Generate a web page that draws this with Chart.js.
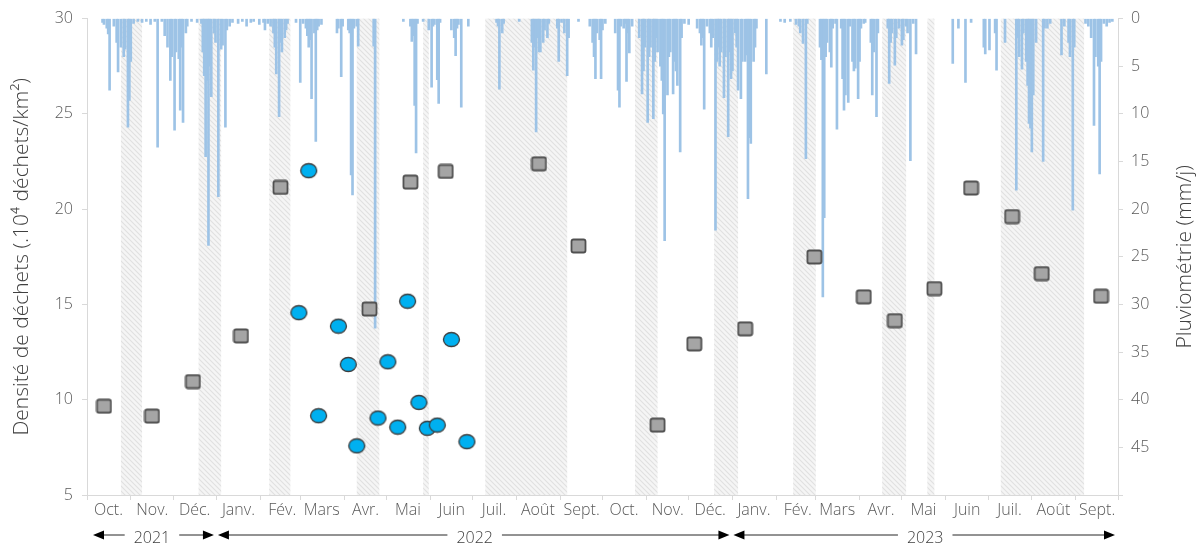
<!DOCTYPE html>
<html>
<head>
<meta charset="utf-8">
<script src="https://cdn.jsdelivr.net/npm/chart.js@4/dist/chart.umd.min.js"></script>
<style>
  html, body { margin: 0; padding: 0; background: #fff; }
  #wrap { width: 1203px; height: 547px; }
</style>
</head>
<body>
<div id="wrap"><canvas id="c"></canvas></div>
<script>
// x axis is in days since 1 Oct 2021
const monthLabels = ['Oct.','Nov.','Déc.','Janv.','Fév.','Mars','Avr.','Mai','Juin','Juil.','Août','Sept.',
                     'Oct.','Nov.','Déc.','Janv.','Fév.','Mars','Avr.','Mai','Juin','Juil.','Août','Sept.'];
const monthStarts = [0,31,61,92,123,151,182,212,243,273,304,335,365,396,426,457,488,516,547,577,608,638,669,700,730];
const yearLabels = ['2021','2022','2023'];
const yearBounds = [0,92,457,730];

// hatched periods
const bandStart = [24,79,129,191,238,282,388,444,500,563,595,647];
const bandEnd   = [39,95,144,207,242,340,404,461,516,580,600,706];

// grey squares
const squareDays    = [12,46,75,109,137,200,229,254,320,348,404,430,466,515,550,572,600,626,655,676,718];
const squareDensity = [9.66,9.14,10.95,13.35,21.14,14.76,21.42,21.98,22.38,18.07,8.67,12.93,13.72,17.49,15.4,14.15,15.83,21.11,19.61,16.62,15.43];

// blue circles
const circleDays    = [150,157,164,178,185,191,206,213,220,227,235,241,248,258,269];
const circleDensity = [14.57,22.02,9.16,13.86,11.85,7.58,9.04,11.99,8.56,15.17,9.86,8.5,8.67,13.16,7.8];

// daily rainfall (mm/j)
const rainDays = [
  11,12,14,15,16,19,21,22,24,26,27,29,30,31,33,36,39,42,45,48,50,53,55,57,59,60,62,63,65,66,67,68,70,71,74,78,
  81,82,83,84,85,86,87,88,90,91,93,95,96,98,99,101,103,107,110,113,116,118,122,125,126,128,130,132,133,134,136,137,138,140,141,142,
  148,151,153,155,156,157,158,159,161,162,163,164,166,177,178,180,181,185,186,187,188,189,191,192,203,204,
  224,229,230,231,232,233,234,238,242,244,245,246,248,249,250,258,260,261,262,263,265,270,290,291,292,294,295,
  306,315,316,317,318,319,320,321,323,324,326,327,333,334,336,338,340,341,348,356,358,359,360,361,363,364,365,367,
  374,376,377,378,380,381,382,383,384,386,391,393,394,395,397,398,399,401,402,403,404,406,407,408,409,411,412,413,
  415,416,417,418,420,421,423,426,432,434,435,436,437,439,441,442,443,445,
  446,447,448,449,451,452,454,455,456,457,459,460,461,463,464,466,467,468,469,470,472,473,474,481,491,494,498,
  502,504,505,507,509,510,519,520,521,522,523,524,526,527,528,530,531,534,535,536,537,539,540,542,543,544,546,547,548,
  550,551,555,556,557,559,560,567,568,569,570,572,573,575,577,578,580,581,583,585,587,
  613,617,622,626,635,636,639,643,644,650,658,659,660,662,663,665,666,667,668,669,670,672,677,678,680,682,
  690,692,695,696,698,699,707,709,711,713,714,716,717,718,720,722,724,726
];
const rainMm = [
  0.4,0.6,1.0,1.6,7.5,0.8,2.5,5.6,3.0,4.0,3.2,11.4,8.6,4.5,0.5,0.3,0.4,0.3,0.6,0.3,13.5,0.3,1.8,3.0,6.5,4.0,11.7,3.5,4.2,9.6,3.0,10.9,1.5,0.8,0.3,0.4,
  0.5,3.5,6.0,14.5,6.5,23.8,5.0,8.2,1.5,2.5,18.7,3.2,2.8,11.4,1.2,0.8,0.4,0.5,0.3,0.8,0.4,0.3,0.6,0.4,1.2,0.5,0.8,1.5,3.0,5.8,10.3,2.5,3.5,2.0,1.2,0.5,
  0.4,6.7,0.5,1.0,1.8,3.0,2.2,8.4,1.5,12.9,1.2,0.8,0.6,1.5,1.0,6.1,0.8,1.2,1.5,16.4,18.5,1.0,0.8,2.9,2.9,32.5,
  0.3,0.8,2.4,1.8,9.1,14.1,0.5,0.3,1.2,7.2,0.8,0.6,6.4,8.9,0.4,1.2,2.0,3.9,1.0,0.6,9.3,0.8,0.4,0.8,7.4,1.5,0.5,
  0.3,2.5,5.4,3.0,11.9,2.0,3.5,3.5,2.5,1.2,2.0,0.5,1.0,4.5,0.4,1.5,6.0,2.0,0.3,0.8,2.5,4.0,6.3,1.5,2.2,6.3,1.2,0.5,
  1.5,7.5,9.3,0.8,1.0,0.5,6.6,1.5,3.6,0.8,2.0,7.9,5.5,3.0,10.9,4.0,3.0,10.5,4.5,2.0,3.5,5.0,6.5,10.0,23.3,8.0,4.0,3.5,
  7.9,4.5,5.5,7.0,14.0,2.0,0.5,0.6,1.0,1.5,2.8,2.0,9.5,0.8,1.5,3.0,2.0,22.2,
  4.5,3.0,5.0,3.5,8.3,4.0,12.4,3.5,6.3,5.5,1.5,3.0,7.5,8.4,4.5,4.5,3.8,18.9,12.5,13.1,4.5,3.0,1.0,5.8,0.3,0.4,0.3,
  0.6,0.8,1.5,2.6,14.7,0.5,3.0,4.3,29.2,20.9,4.0,2.5,3.5,5.1,1.0,0.5,11.6,1.0,6.3,9.6,8.0,8.8,0.8,4.5,5.5,5.2,8.4,4.5,1.0,
  0.5,0.4,2.5,8.0,3.5,10.3,1.5,1.0,6.8,2.5,1.5,4.9,2.0,1.0,2.8,2.2,0.8,1.5,14.9,0.5,3.7,
  4.7,1.0,6.7,0.4,3.0,3.7,3.3,1.5,5.4,2.5,18.0,2.0,4.0,5.3,1.5,4.5,7.0,11.0,11.5,14.0,8.0,2.5,15.0,1.0,1.0,0.5,
  3.8,0.8,2.5,4.0,20.1,3.0,0.5,0.8,2.0,11.2,4.0,5.0,16.3,4.5,0.5,0.8,0.4,0.3
];

const FONT = "'Open Sans', 'Noto Sans', sans-serif";
const TXT = '#595959';
const AXIS = '#d9d9d9';

function makeHatch(ctx) {
  const c = document.createElement('canvas');
  c.width = 5; c.height = 5;
  const g = c.getContext('2d');
  g.fillStyle = '#f5f5f5';
  g.fillRect(0, 0, 5, 5);
  g.strokeStyle = '#e0e0e0';
  g.lineWidth = 1.1;
  g.beginPath();
  g.moveTo(-1, -1); g.lineTo(6, 6);
  g.moveTo(-1, 4); g.lineTo(1, 6);
  g.moveTo(4, -1); g.lineTo(6, 1);
  g.stroke();
  return ctx.createPattern(c, 'repeat');
}

function squareMarker() {
  const c = document.createElement('canvas');
  c.width = 17; c.height = 16;
  const g = c.getContext('2d');
  const x = 1.5, y = 1.5, w = 14, h = 13, r = 2;
  g.beginPath();
  g.moveTo(x + r, y); g.lineTo(x + w - r, y); g.quadraticCurveTo(x + w, y, x + w, y + r);
  g.lineTo(x + w, y + h - r); g.quadraticCurveTo(x + w, y + h, x + w - r, y + h);
  g.lineTo(x + r, y + h); g.quadraticCurveTo(x, y + h, x, y + h - r);
  g.lineTo(x, y + r); g.quadraticCurveTo(x, y, x + r, y);
  g.closePath();
  g.fillStyle = '#a5a5a5';
  g.fill();
  g.strokeStyle = '#505050';
  g.lineWidth = 1.8;
  g.stroke();
  return c;
}

function circleMarker() {
  const c = document.createElement('canvas');
  c.width = 19; c.height = 17;
  const g = c.getContext('2d');
  g.beginPath();
  g.ellipse(9.5, 8.5, 8, 7, 0, 0, Math.PI * 2);
  g.fillStyle = '#00b0f0';
  g.fill();
  g.strokeStyle = '#3c3c3c';
  g.lineWidth = 1.3;
  g.stroke();
  return c;
}

const canvas = document.getElementById('c');
const hatch = makeHatch(canvas.getContext('2d'));

const decorPlugin = {
  id: 'decor',
  beforeDatasetsDraw(chart) {
    const {ctx, chartArea, scales} = chart;
    const x = scales.x;
    ctx.save();
    ctx.fillStyle = hatch;
    for (let i = 0; i < bandStart.length; i++) {
      const a = x.getPixelForValue(bandStart[i]);
      const b = x.getPixelForValue(bandEnd[i]);
      ctx.fillRect(a, chartArea.top, b - a, chartArea.bottom - chartArea.top);
    }
    ctx.restore();
  },
  afterDraw(chart) {
    const {ctx, chartArea, scales} = chart;
    const x = scales.x;
    const ys = scales.xYear;
    const y = ys.top + 14;
    ctx.save();
    ctx.font = '300 16px ' + FONT;
    ctx.strokeStyle = '#262626';
    ctx.fillStyle = '#000';
    ctx.lineWidth = 1;
    for (let i = 0; i < yearLabels.length; i++) {
      const pa = x.getPixelForValue(yearBounds[i]) + (i === 0 ? 6 : 1);
      const pb = x.getPixelForValue(yearBounds[i + 1]) - 3;
      const pc = x.getPixelForValue((yearBounds[i] + yearBounds[i + 1]) / 2);
      const w = ctx.measureText(yearLabels[i]).width;
      ctx.beginPath();
      ctx.moveTo(pa + 4, y); ctx.lineTo(pc - w / 2 - 9, y);
      ctx.moveTo(pc + w / 2 + 9, y); ctx.lineTo(pb - 4, y);
      ctx.stroke();
      // arrow heads
      ctx.beginPath();
      ctx.moveTo(pa, y); ctx.lineTo(pa + 11, y - 4.5); ctx.lineTo(pa + 11, y + 4.5); ctx.closePath();
      ctx.moveTo(pb, y); ctx.lineTo(pb - 11, y - 4.5); ctx.lineTo(pb - 11, y + 4.5); ctx.closePath();
      ctx.fill();
    }
    // right axis title, reading bottom to top
    ctx.font = '300 21px ' + FONT;
    ctx.fillStyle = '#404040';
    ctx.translate(1185, (chartArea.top + chartArea.bottom) / 2);
    ctx.rotate(-Math.PI / 2);
    ctx.textAlign = 'center';
    ctx.textBaseline = 'middle';
    ctx.fillText('Pluviométrie (mm/j)', 0, 0);
    ctx.restore();
  }
};

const noPad = s => { s.paddingLeft = 0; s.paddingRight = 0; };

new Chart(canvas, {
  type: 'scatter',
  data: {
    datasets: [
      {
        label: 'circles',
        data: circleDays.map((d, i) => ({x: d, y: circleDensity[i]})),
        yAxisID: 'y',
        pointStyle: circleMarker(),
        order: 0
      },
      {
        label: 'squares',
        data: squareDays.map((d, i) => ({x: d, y: squareDensity[i]})),
        yAxisID: 'y',
        pointStyle: squareMarker(),
        order: 1
      },
      {
        type: 'bar',
        label: 'pluie',
        data: rainDays.map((d, i) => ({x: d, y: rainMm[i]})),
        yAxisID: 'y2',
        backgroundColor: '#9dc3e6',
        barThickness: 2,
        order: 2
      }
    ]
  },
  options: {
    responsive: true,
    maintainAspectRatio: false,
    animation: false,
    layout: { padding: { top: 18, left: 0, right: 0, bottom: 0 } },
    plugins: { legend: { display: false }, tooltip: { enabled: false } },
    scales: {
      x: {
        type: 'linear', position: 'bottom', min: 0, max: 730, offset: false,
        afterBuildTicks: s => { s.ticks = monthStarts.map(v => ({value: v})); },
        afterFit: s => { s.height = 26; noPad(s); },
        grid: { drawOnChartArea: false, tickLength: 5, color: AXIS, offset: false },
        border: { color: AXIS },
        ticks: {
          autoSkip: false, maxRotation: 0, padding: 1, labelOffset: 21.5,
          color: TXT, font: { family: FONT, size: 16, weight: '300' },
          callback: (v, i) => monthLabels[i] || ''
        }
      },
      xYear: {
        type: 'linear', position: 'bottom', min: 0, max: 730, offset: false,
        afterBuildTicks: s => { s.ticks = yearLabels.map((t, i) => ({value: (yearBounds[i] + yearBounds[i + 1]) / 2})); },
        afterFit: s => { s.height = 26; noPad(s); },
        grid: { display: false, offset: false },
        border: { display: false },
        ticks: {
          autoSkip: false, maxRotation: 0, padding: 0,
          color: '#404040', font: { family: FONT, size: 16, weight: '300' },
          callback: (v, i) => yearLabels[i]
        }
      },
      y: {
        position: 'left', min: 5, max: 30,
        afterFit: s => { s.width = 87; },
        grid: { drawOnChartArea: false, tickLength: 5, color: AXIS },
        border: { color: AXIS },
        ticks: { stepSize: 5, padding: 9, color: TXT, font: { family: FONT, size: 16, weight: '300' } },
        title: {
          display: true, text: 'Densité de déchets (.10⁴ déchets/km²)',
          color: '#404040', font: { family: FONT, size: 21, weight: '300' }, padding: { top: 9, bottom: 0 }
        }
      },
      y2: {
        position: 'right', min: 0, max: 50, reverse: true,
        afterFit: s => { s.width = 85; },
        grid: { drawOnChartArea: false, tickLength: 5, color: AXIS },
        border: { color: AXIS },
        ticks: { stepSize: 5, padding: 8, color: TXT, font: { family: FONT, size: 16, weight: '300' },
                 callback: v => (v === 50 ? '' : v) }
      }
    }
  },
  plugins: [decorPlugin]
});
</script>
</body>
</html>
